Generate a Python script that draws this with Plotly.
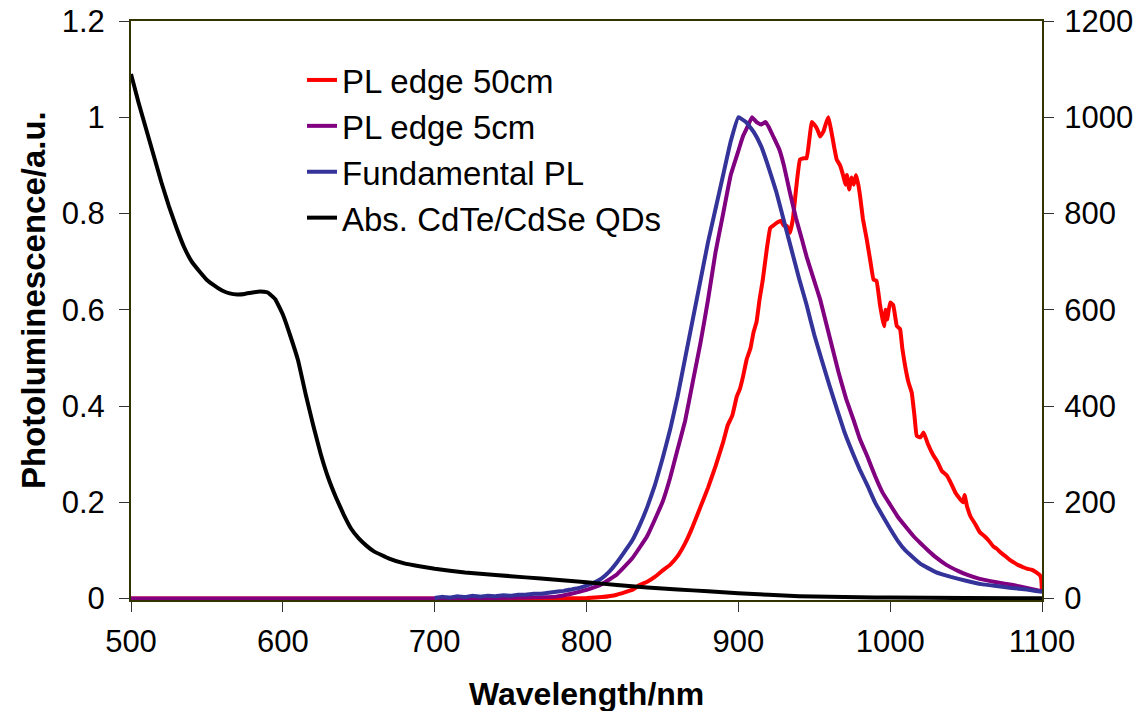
import plotly.graph_objects as go

# ---------------- data ----------------
abs_wl = [500, 505, 510, 515, 520, 525, 530, 535, 540, 545, 550, 555, 560, 565, 570,
          575, 580, 585, 590, 595, 600, 605, 610, 615, 620, 625, 630, 635, 640, 645,
          650, 655, 660, 670, 680, 690, 700, 720, 740, 760, 780, 800, 820, 840, 860,
          880, 900, 920, 940, 960, 980, 1000, 1050, 1100]
abs_val = [1.09, 1.03, 0.975, 0.92, 0.865, 0.815, 0.77, 0.73, 0.70, 0.68, 0.662, 0.65,
           0.64, 0.634, 0.632, 0.633, 0.636, 0.638, 0.636, 0.622, 0.59, 0.545, 0.495,
           0.425, 0.36, 0.30, 0.25, 0.21, 0.175, 0.145, 0.125, 0.11, 0.098, 0.083, 0.073,
           0.067, 0.062, 0.054, 0.049, 0.044, 0.039, 0.034, 0.028, 0.023, 0.019, 0.015,
           0.011, 0.008, 0.005, 0.0035, 0.0025, 0.002, 0.001, 0.0005]

fund_wl = [700, 705, 710, 715, 720, 725, 730, 735, 740, 745, 750, 755, 760, 765, 770, 775,
           780, 785, 790, 795, 800, 805, 810, 815, 820, 825, 830, 835, 840, 845, 850, 855,
           860, 865, 870, 875, 880, 885, 890, 895, 900, 905, 910, 915, 920, 925, 930, 935,
           940, 945, 950, 955, 960, 965, 970, 975, 980, 985, 990, 995, 1000, 1005, 1010,
           1020, 1030, 1040, 1050, 1060, 1070, 1080, 1090, 1100]
fund_val = [0.001, 0.004, 0.002, 0.005, 0.003, 0.006, 0.004, 0.006, 0.005, 0.007, 0.006,
            0.008, 0.008, 0.010, 0.010, 0.012, 0.014, 0.016, 0.019, 0.022, 0.027, 0.033,
            0.042, 0.056, 0.075, 0.097, 0.12, 0.152, 0.19, 0.235, 0.29, 0.35, 0.42, 0.50,
            0.58, 0.66, 0.74, 0.81, 0.88, 0.95, 1.0, 0.99, 0.97, 0.94, 0.895, 0.845, 0.785,
            0.725, 0.665, 0.61, 0.548, 0.495, 0.443, 0.393, 0.345, 0.305, 0.268, 0.235,
            0.2, 0.172, 0.145, 0.12, 0.10, 0.072, 0.055, 0.045, 0.037, 0.030, 0.026, 0.022,
            0.019, 0.014]

edge5_wl = [500, 600, 700, 780, 790, 800, 810, 820, 830, 840, 850, 855, 860, 865, 870, 875,
            880, 885, 890, 895, 900, 903, 906, 909, 912, 915, 918, 920, 923, 927, 930, 934,
            938, 942, 945, 950, 954, 958, 962, 966, 971, 976, 980, 985, 990, 995, 1000,
            1005, 1010, 1015, 1020, 1025, 1030, 1037, 1045, 1050, 1059, 1070, 1081, 1090,
            1100]
edge5_val = [0.0, 0.0, 0.0, 0.004, 0.01, 0.018, 0.03, 0.05, 0.083, 0.13, 0.2, 0.25, 0.31,
             0.37, 0.45, 0.53, 0.62, 0.72, 0.80, 0.88, 0.93, 0.96, 0.98, 1.0, 0.99, 0.985,
             0.99, 0.98, 0.96, 0.933, 0.9, 0.843, 0.79, 0.745, 0.71, 0.66, 0.62, 0.57, 0.52,
             0.47, 0.415, 0.37, 0.332, 0.295, 0.255, 0.22, 0.195, 0.17, 0.15, 0.131, 0.115,
             0.10, 0.086, 0.07, 0.057, 0.05, 0.041, 0.034, 0.028, 0.022, 0.015]

edge50_wl = [500, 600, 700, 800, 810, 820, 830, 835, 840, 845, 850, 855, 860, 865, 870, 875,
             880, 885, 890, 893, 896, 899, 901, 903, 905.5, 908, 910, 912, 914, 916, 918.7,
             921, 923, 925, 928, 930, 932, 934, 936, 938, 940.6, 943, 945, 947, 948.3, 950,
             952, 953.8, 956, 958, 959.3, 961, 963, 964.8, 967, 969.2, 970.5, 971.5, 973,
             974.5, 976, 977.5, 979, 980.2, 982, 984.6, 987, 989, 991, 993.4, 995, 996, 997,
             998, 1000, 1002, 1004.4, 1006.5, 1008, 1009.8, 1012, 1014.2, 1016, 1017.5, 1020,
             1022, 1025, 1028.5, 1031, 1034, 1037.2, 1040, 1043, 1046, 1048, 1049, 1050.5,
             1053, 1056, 1059, 1062, 1065, 1068, 1070, 1073, 1076, 1079, 1081, 1084, 1087,
             1090, 1093, 1096, 1098.7, 1099.5, 1100]
edge50_val = [0.0, 0.0, 0.0, 0.001, 0.003, 0.008, 0.018, 0.028, 0.035, 0.045, 0.058, 0.07,
              0.088, 0.115, 0.15, 0.19, 0.23, 0.275, 0.325, 0.36, 0.38, 0.42, 0.435, 0.46,
              0.497, 0.52, 0.553, 0.575, 0.622, 0.66, 0.725, 0.77, 0.775, 0.78, 0.785, 0.775,
              0.774, 0.76, 0.79, 0.85, 0.912, 0.915, 0.915, 0.96, 0.99, 0.985, 0.975, 0.96,
              0.97, 0.99, 1.0, 0.975, 0.94, 0.912, 0.9, 0.877, 0.86, 0.88, 0.85, 0.875, 0.86,
              0.88, 0.86, 0.836, 0.79, 0.746, 0.70, 0.663, 0.66, 0.608, 0.58, 0.566, 0.60,
              0.58, 0.615, 0.61, 0.566, 0.56, 0.52, 0.484, 0.45, 0.428, 0.38, 0.338, 0.335,
              0.345, 0.32, 0.297, 0.285, 0.265, 0.256, 0.24, 0.22, 0.207, 0.20, 0.215, 0.193,
              0.17, 0.155, 0.138, 0.13, 0.12, 0.108, 0.104, 0.095, 0.088, 0.08, 0.076, 0.07,
              0.066, 0.062, 0.06, 0.055, 0.048, 0.04, 0.015]

x_ticks = [500, 600, 700, 800, 900, 1000, 1100]
y_ticks = [0, 0.2, 0.4, 0.6, 0.8, 1.0, 1.2]
y_tick_text = ["0", "0.2", "0.4", "0.6", "0.8", "1", "1.2"]
y2_ticks = [0, 200, 400, 600, 800, 1000, 1200]

# ---------------- figure ----------------
FONT = "Liberation Sans, Arial, sans-serif"
AXC = "#333300"
TICK_SIZE = 31
fig = go.Figure()

series = [
    ("PL edge 50cm", edge50_wl, edge50_val, "#FF0000"),
    ("PL edge 5cm", edge5_wl, edge5_val, "#800080"),
    ("Fundamental PL", fund_wl, fund_val, "#333399"),
    ("Abs. CdTe/CdSe QDs", abs_wl, abs_val, "#000000"),
]
for i, (name, xs, ys, col) in enumerate(series):
    fig.add_trace(go.Scatter(x=xs, y=ys, mode="lines", name=name,
                             legendgroup=f"g{i}",
                             line=dict(color=col, width=4, shape="spline",
                                       smoothing=0.3)))

# dummy trace to show right axis
fig.add_trace(go.Scatter(x=[None], y=[None], yaxis="y2", showlegend=False,
                         hoverinfo="skip"))

fig.update_layout(
    width=1140, height=711,
    margin=dict(l=131, r=98, t=21, b=111),
    paper_bgcolor="white", plot_bgcolor="white",
    font=dict(family=FONT, size=TICK_SIZE, color="black"),
    showlegend=True,
    legend=dict(x=(302 - 131) / 911, y=(600 - 52) / 579, xanchor="left", yanchor="top",
                bgcolor="rgba(0,0,0,0)", font=dict(size=33), tracegroupgap=3,
                traceorder="normal"),
    xaxis=dict(range=[500, 1100], tickvals=x_ticks, showgrid=False, zeroline=False,
               showline=True, linecolor=AXC, linewidth=2, mirror=True,
               ticks="outside", ticklen=10, tickcolor="#333333", tickwidth=1,
               ticklabelstandoff=3, tickfont=dict(size=TICK_SIZE), automargin=False),
    yaxis=dict(range=[-0.003, 1.2], tickvals=y_ticks, ticktext=y_tick_text,
               showgrid=False, zeroline=False, showline=True, linecolor=AXC,
               linewidth=2, ticks="outside", ticklen=10, tickcolor="#333333",
               tickwidth=1, ticklabelstandoff=8, tickfont=dict(size=TICK_SIZE),
               automargin=False),
    yaxis2=dict(range=[-3, 1200], tickvals=y2_ticks, overlaying="y", side="right",
                showgrid=False, zeroline=False, showline=True, linecolor=AXC,
                linewidth=2, ticks="outside", ticklen=10, tickcolor="#333333",
                tickwidth=1, ticklabelstandoff=4, tickfont=dict(size=TICK_SIZE),
                automargin=False),
    annotations=[
        dict(text="<b>Wavelength/nm</b>", xref="paper", yref="paper", x=0.5,
             y=(600 - 694) / 579, xanchor="center", yanchor="middle", showarrow=False,
             font=dict(size=32, family=FONT)),
        dict(text="<b>Photoluminescence/a.u.</b>", xref="paper", yref="paper",
             x=(33 - 131) / 911, y=(600 - 300) / 579, xanchor="center",
             yanchor="middle", textangle=-90, showarrow=False,
             font=dict(size=33, family=FONT)),
    ],
)

fig.write_html("out.html")
